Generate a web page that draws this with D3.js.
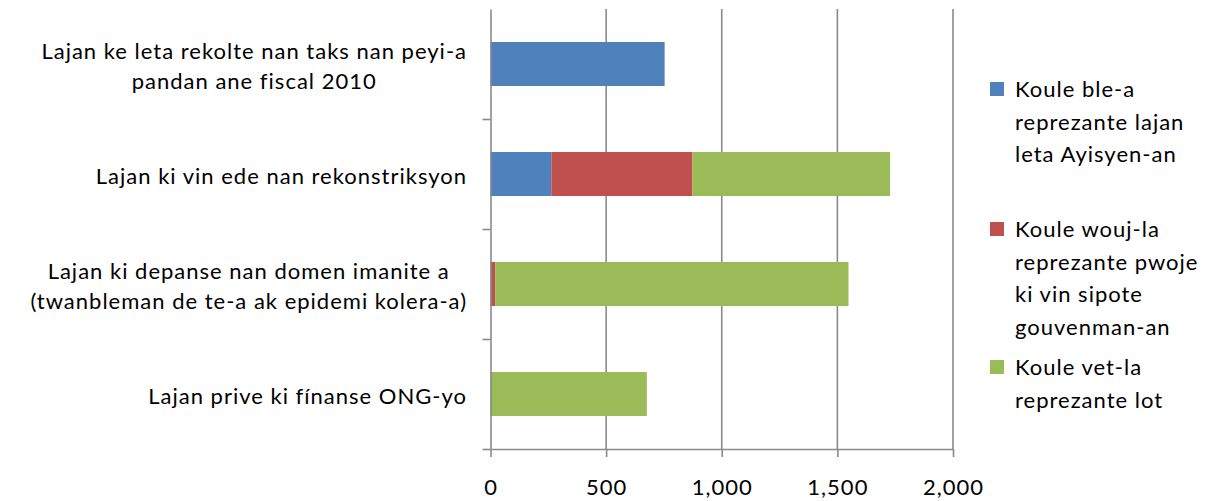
<!DOCTYPE html>
<html><head><meta charset="utf-8">
<script src="https://cdn.jsdelivr.net/npm/d3@7"></script>
<style>
body{margin:0;background:#fff}
text{font-family:Lato,'Open Sans',sans-serif;fill:#000;letter-spacing:1px}
</style></head>
<body><svg id="c" width="1212" height="501"></svg>
<script>
const categories = [
  ["Lajan ke leta rekolte nan taks nan peyi-a", "pandan ane fiscal 2010"],
  ["Lajan ki vin ede nan rekonstriksyon"],
  ["Lajan ki depanse nan domen imanite a", "(twanbleman de te-a ak epidemi kolera-a)"],
  ["Lajan prive ki fínanse ONG-yo"]
];
const seriesKeys = ["blue", "red", "green"];
const blueValues = [753, 263, 0, 0];
const redValues = [0, 610, 20, 0];
const greenValues = [0, 855, 1528, 676];
const legendLabels = [
  ["Koule ble-a", "reprezante lajan", "leta Ayisyen-an"],
  ["Koule wouj-la", "reprezante pwoje", "ki vin sipote", "gouvenman-an"],
  ["Koule vet-la", "reprezante lot"]
];
const seriesColors = ["#4F81BD", "#C0504D", "#9BBB59"];
const xTicks = [0, 500, 1000, 1500, 2000];

const svg = d3.select("#c");
const fontSize = 22;
const gridColor = "#8a8a8a";

const catIds = categories.map((c, i) => i);
const rows = catIds.map(i => ({id: i, blue: blueValues[i], red: redValues[i], green: greenValues[i]}));
const stacked = d3.stack().keys(seriesKeys)(rows);

const x = d3.scaleLinear().domain([0, 2000]).range([490.5, 953]);
const y = d3.scaleBand().domain(catIds).range([9, 449]).paddingInner(0.6).paddingOuter(0.3);
const yEdge = d3.scaleLinear().domain([0, 4]).range([449, 9]);
const color = d3.scaleOrdinal().domain(seriesKeys).range(seriesColors);

// gridlines
svg.append("g").selectAll("line").data(xTicks.slice(1)).join("line")
  .attr("x1", d => x(d)).attr("x2", d => x(d))
  .attr("y1", 9).attr("y2", 449)
  .attr("stroke", gridColor).attr("stroke-width", 1.6);

// bars
svg.append("g").selectAll("g").data(stacked).join("g")
  .attr("fill", d => color(d.key))
  .selectAll("rect").data(d => d).join("rect")
  .attr("x", d => x(d[0]))
  .attr("width", d => Math.max(0, x(d[1]) - x(d[0])))
  .attr("y", d => y(d.data.id))
  .attr("height", y.bandwidth());

// left axis
const gy = svg.append("g").attr("transform", `translate(${x(0)},0)`)
  .call(d3.axisLeft(yEdge).tickValues([0, 1, 2, 3]).tickSize(8).tickSizeOuter(0).tickFormat(""));
gy.select(".domain").attr("stroke", gridColor).attr("stroke-width", 1.6);
gy.selectAll(".tick line").attr("stroke", gridColor).attr("stroke-width", 1.6);

// bottom axis
const gx = svg.append("g").attr("transform", `translate(0,${yEdge(0)})`)
  .call(d3.axisBottom(x).tickValues(xTicks).tickSize(8).tickSizeOuter(0).tickFormat(d3.format(",")));
gx.select(".domain").attr("stroke", gridColor).attr("stroke-width", 1.6);
gx.selectAll(".tick line").attr("stroke", gridColor).attr("stroke-width", 1.6);
gx.selectAll(".tick text").attr("y", 46).attr("dy", null)
  .style("font-size", fontSize + "px").style("font-family", "Lato,'Open Sans',sans-serif").attr("fill", "#000");

// category labels
const labelRight = 467;
const lineH = 29.5;
const lg = svg.append("g");
categories.forEach((lines, i) => {
  const cy = y(i) + y.bandwidth() / 2;
  const t = lg.append("text").attr("text-anchor", "middle").style("font-size", fontSize + "px");
  const spans = lines.map((ln, k) => t.append("tspan").text(ln));
  const widths = spans.map(s => s.node().getComputedTextLength());
  const w = d3.max(widths);
  const cx = labelRight - w / 2;
  const base0 = cy + 10 - (lines.length - 1) * lineH / 2;
  spans.forEach((s, k) => s.attr("x", cx).attr("y", base0 + k * lineH));
});

// legend
const legTop = [97, 237, 375];
const legLineH = 32.5;
const leg = svg.append("g");
legendLabels.forEach((lines, i) => {
  leg.append("rect").attr("x", 990).attr("y", legTop[i] - 15).attr("width", 14).attr("height", 14)
    .attr("fill", seriesColors[i]);
  const t = leg.append("text").style("font-size", fontSize + "px");
  lines.forEach((ln, k) => t.append("tspan").attr("x", 1015).attr("y", legTop[i] + k * legLineH).text(ln));
});
</script>
</body></html>
